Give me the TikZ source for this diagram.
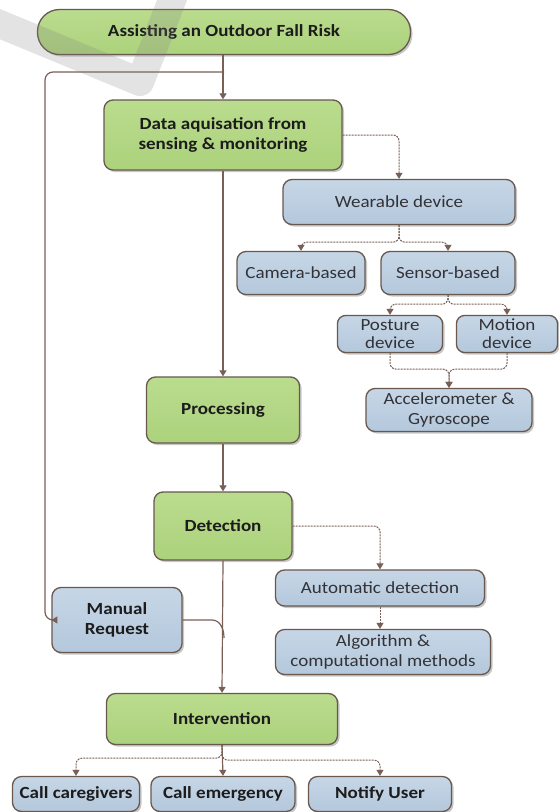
\documentclass[tikz,border=0pt]{standalone}
\usepackage{fontspec}
\setmainfont{Carlito}[FakeStretch=1.12]
\usetikzlibrary{arrows.meta,shadows}
\definecolor{gfill}{RGB}{172,210,124}
\definecolor{gtop}{RGB}{186,220,142}
\definecolor{btop}{RGB}{198,214,230}
\definecolor{bbot}{RGB}{180,200,220}
\definecolor{bord}{RGB}{105,88,78}
\definecolor{conn}{RGB}{120,96,86}
\definecolor{gtext}{RGB}{28,28,28}
\definecolor{btext}{RGB}{50,50,55}
\tikzset{
  box/.style={draw=bord, line width=1.3pt, rounded corners=9pt, inner sep=0pt, align=center,
    font=\fontsize{17}{20}\selectfont,
    drop shadow={shadow xshift=2pt, shadow yshift=-2pt, opacity=0.22, fill=black}},
  gbox/.style={box, top color=gtop, bottom color=gfill, text=gtext, font=\fontsize{17}{20}\selectfont\bfseries},
  bbox/.style={box, top color=btop, bottom color=bbot, text=btext},
  bbold/.style={bbox, font=\fontsize{17}{20}\selectfont\bfseries, text=gtext},
  arr/.style={draw=conn, line width=1.2pt, -{Triangle[width=7pt,length=6pt]}, rounded corners=6pt},
  darr/.style={arr, dash pattern=on 2pt off 1pt, line width=1pt},
}
\begin{document}
\begin{tikzpicture}[x=1pt,y=-1pt]
\useasboundingbox[fill=white] (0,0) rectangle (559,812);
% nodes
\node[gbox, minimum width=373pt, minimum height=45pt, rounded corners=22pt] (pill) at (224,32) {Assisting an Outdoor Fall Risk};
\node[gbox, minimum width=238pt, minimum height=70pt] (data) at (223,135) {Data aquisation from\\sensing \& monitoring};
\node[bbox, minimum width=232pt, minimum height=45pt] (wear) at (399,202) {Wearable device};
\node[bbox, minimum width=128pt, minimum height=43pt] (cam) at (301,273) {Camera-based};
\node[bbox, minimum width=134pt, minimum height=43pt] (sens) at (448,273) {Sensor-based};
\node[bbox, minimum width=105pt, minimum height=37pt, rounded corners=8pt] (post) at (390,334) {Posture\\[-2pt]device};
\node[bbox, minimum width=101pt, minimum height=37pt, rounded corners=8pt] (mot) at (507,334) {Motion\\[-2pt]device};
\node[bbox, minimum width=166pt, minimum height=43pt] (acc) at (449,410) {Accelerometer \&\\Gyroscope};
\node[gbox, minimum width=153pt, minimum height=66pt] (proc) at (223,410) {Processing};
\node[gbox, minimum width=138pt, minimum height=68pt] (det) at (223,526) {Detection};
\node[bbox, minimum width=209pt, minimum height=36pt] (auto) at (380,588) {Automatic detection};
\node[bbox, minimum width=215pt, minimum height=45pt] (algo) at (383,652) {Algorithm \&\\computational methods};
\node[bbold, minimum width=130pt, minimum height=65pt] (man) at (117,620) {Manual\\Request};
\node[gbox, minimum width=231pt, minimum height=51pt] (int) at (222,719) {Intervention};
\node[bbold, minimum width=127pt, minimum height=35pt] (care) at (76,794) {Call caregivers};
\node[bbold, minimum width=144pt, minimum height=35pt] (emer) at (223,794) {Call emergency};
\node[bbold, minimum width=143pt, minimum height=35pt] (noti) at (380,794) {Notify User};
% coordinates on trunk
\coordinate (loopTop) at (224,72);
\coordinate (mjoin) at (224,638);
% main trunk
\draw[arr] (pill.south -| data.north) -- (data.north);
\draw[arr] (data.south) -- (proc.north);
\draw[arr] (proc.south) -- (det.north);
\draw[arr] (det.south) -- (int.north);
\draw[arr] (int.south) -- (emer.north);
% loop to manual request
\draw[arr, rounded corners=8pt] (loopTop) -- (45,72) -- (45,620) -- (man.west);
\draw[draw=conn, line width=1.2pt] (man.east) -- (212,620) to[out=0,in=90] (mjoin);
% dashed branches
\draw[darr] (data.east) -| (wear.north);
\draw[darr] (wear.south) -- ++(0,17) -| (cam.north);
\draw[darr] (wear.south) -- ++(0,17) -| (sens.north);
\draw[darr] (sens.south) -- ++(0,9) -| (post.north);
\draw[darr] (sens.south) -- ++(0,9) -| (mot.north);
\draw[darr] (post.south) -- ++(0,16) -| (acc.north);
\draw[darr] (mot.south) -- ++(0,16) -| (acc.north);
\draw[darr] (det.east) -| (auto.north);
\draw[darr] (auto.south) -- (auto.south |- algo.north);
\draw[darr] (int.south) -- ++(0,13) -| (care.north);
\draw[darr] (int.south) -- ++(0,15) -| (noti.north);
% watermark
\draw[gray, opacity=0.22, line width=28pt, line join=round] (-10,20) -- (140,82) -- (176,-10);
\end{tikzpicture}
\end{document}
